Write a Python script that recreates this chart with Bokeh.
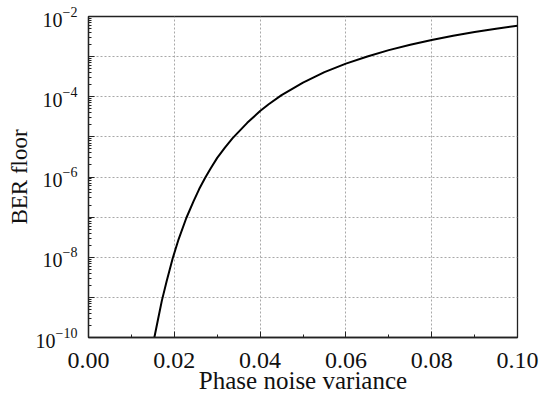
from bokeh.plotting import figure
from bokeh.models import FixedTicker, Range1d
from bokeh.embed import file_html
from bokeh.resources import INLINE

# Data
variance = [0.01535, 0.0162, 0.0171, 0.0182, 0.0196, 0.0210, 0.0228, 0.0245,
            0.0258, 0.0272, 0.0285, 0.0300, 0.0318, 0.0336, 0.0370, 0.0400,
            0.0420, 0.0450, 0.0475, 0.0500, 0.0550, 0.0600, 0.0650, 0.0700,
            0.0750, 0.0800, 0.0850, 0.0900, 0.0950, 0.1000]
ber_floor = [1.0e-10, 2.8e-10, 8.3e-10, 2.5e-9, 9.2e-9, 2.8e-8, 9.5e-8, 2.5e-7,
             5.0e-7, 9.6e-7, 1.66e-6, 3.0e-6, 5.4e-6, 9.3e-6, 2.24e-5, 4.4e-5,
             6.5e-5, 1.1e-4, 1.58e-4, 2.24e-4, 4.1e-4, 6.7e-4, 1.01e-3, 1.45e-3,
             1.97e-3, 2.6e-3, 3.3e-3, 4.1e-3, 4.95e-3, 5.9e-3]

x_ticks = [0.0, 0.02, 0.04, 0.06, 0.08, 0.10]
x_minor = [0.01, 0.03, 0.05, 0.07, 0.09]
x_tick_labels = ["0.00", "0.02", "0.04", "0.06", "0.08", "0.10"]
y_decades = [1e-10, 1e-9, 1e-8, 1e-7, 1e-6, 1e-5, 1e-4, 1e-3, 1e-2]
y_minor = [m * d for d in y_decades[:-1] for m in range(2, 10)]
y_odd_decades = [1e-9, 1e-7, 1e-5, 1e-3]

FONT = "Liberation Serif"

p = figure(width=543, height=407, output_backend="svg", toolbar_location=None,
           y_axis_type="log", x_range=Range1d(0, 0.1), y_range=Range1d(1e-10, 1e-2),
           min_border_left=88, min_border_right=26, min_border_top=16, min_border_bottom=70)

p.line(variance, ber_floor, line_color="black", line_width=2)

p.xaxis.ticker = FixedTicker(ticks=x_ticks, minor_ticks=x_minor)
p.xaxis.major_label_overrides = {t: l for t, l in zip(x_ticks, x_tick_labels)}
p.yaxis.ticker = FixedTicker(ticks=y_decades, minor_ticks=y_minor)
p.yaxis.major_label_overrides = {d: "" for d in y_odd_decades}

for ax in (p.xaxis[0], p.yaxis[0]):
    ax.major_tick_in = 6
    ax.major_tick_out = 0
    ax.minor_tick_in = 3
    ax.minor_tick_out = 0
    ax.axis_line_color = "#222222"
    ax.axis_line_width = 1.3
    ax.major_tick_line_color = "#222222"
    ax.minor_tick_line_color = "#222222"
    ax.major_label_text_font = FONT
    ax.major_label_text_color = "#111111"
    ax.axis_label_text_font = FONT
    ax.axis_label_text_font_style = "normal"
    ax.axis_label_text_color = "#111111"

p.xaxis.major_label_text_font_size = "24px"
p.yaxis.major_label_text_font_size = "20px"
p.xaxis.axis_label_text_font_size = "25px"
p.yaxis.axis_label_text_font_size = "23px"
p.xaxis.axis_label = "Phase noise variance"
p.yaxis.axis_label = "BER floor"
p.xaxis.major_label_standoff = 15
p.xaxis.axis_label_standoff = -4
p.yaxis.major_label_standoff = 11
p.yaxis.axis_label_standoff = 1

p.xgrid.ticker = FixedTicker(ticks=x_ticks[1:-1])
p.ygrid.ticker = FixedTicker(ticks=y_decades[1:-1])
for g in (p.xgrid[0], p.ygrid[0]):
    g.grid_line_color = "#a8a8a8"
    g.grid_line_dash = "2 2"
    g.grid_line_width = 1

p.outline_line_color = "#222222"
p.outline_line_width = 1.3
p.background_fill_color = "white"
p.border_fill_color = "white"

open("out.html", "w").write(file_html(p, INLINE))
